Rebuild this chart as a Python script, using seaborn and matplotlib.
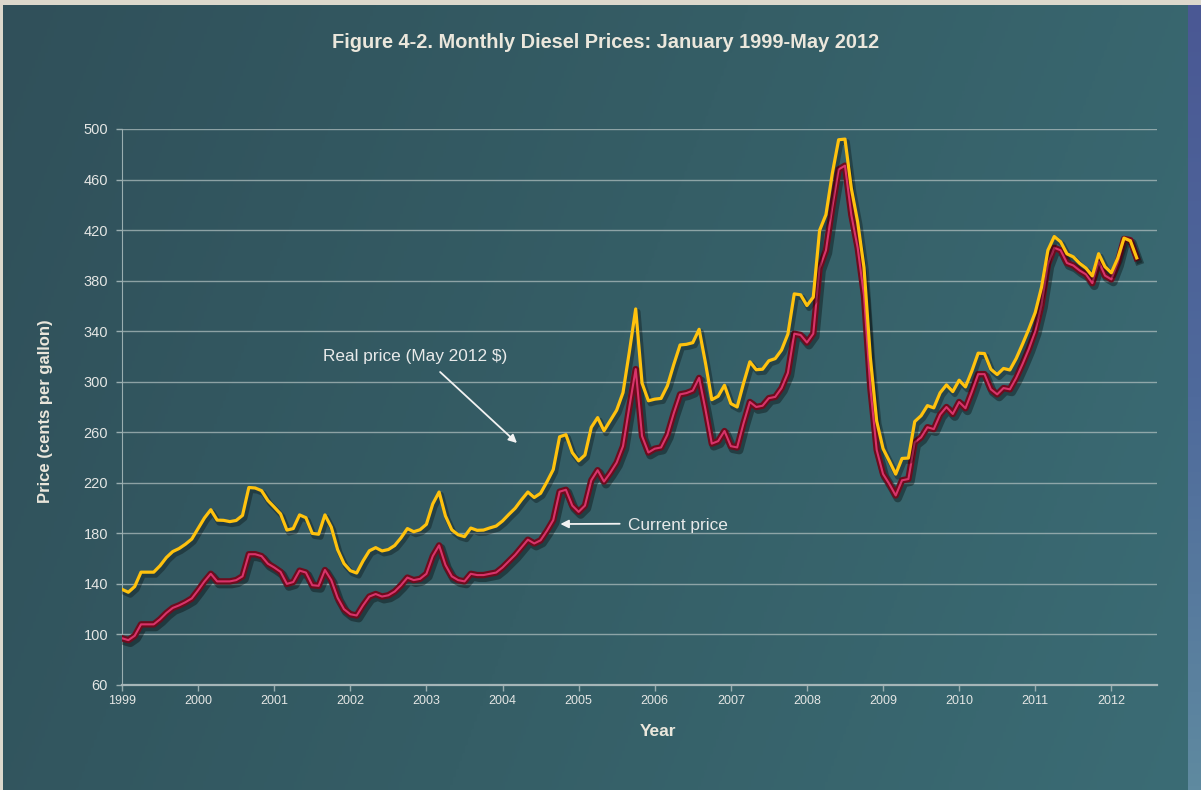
import numpy as np
import pandas as pd
import matplotlib
matplotlib.use("Agg")
import matplotlib.pyplot as plt
import matplotlib.patheffects as pe
from matplotlib import font_manager as fm
from matplotlib.colors import LinearSegmentedColormap
import seaborn as sns

# Monthly on-highway diesel prices, cents per gallon, Jan 1999 - May 2012
current_price = [
    97, 95.5, 99, 108, 108, 108, 112, 117, 121, 123, 125.5, 128.5,          # 1999
    135, 142, 148, 142, 142, 142, 143, 146, 163.5, 163.5, 162, 156,         # 2000
    153, 149.5, 140, 141.5, 150.5, 149, 139, 138.5, 151, 143, 129, 120,     # 2001
    116, 115, 123, 130, 132, 130, 131, 134, 139, 145, 143, 144,             # 2002
    148, 162, 170.5, 155, 146, 143, 142, 148, 147, 147, 148, 149,           # 2003
    153, 158, 163, 169, 175, 172, 174.5, 182, 190.5, 213, 214.5, 202,       # 2004
    197, 202, 222, 230, 221, 228, 236, 249, 280, 310, 257, 244,             # 2005
    247, 248, 258, 275, 290, 291, 293, 303, 278, 251, 253, 261,             # 2006
    249, 248, 267, 284, 280, 281, 287, 288, 295, 307, 338, 337,             # 2007
    331, 338, 390, 404, 438, 468, 471, 432, 406, 368, 295, 246,             # 2008
    227, 219, 210, 222, 223, 252, 256, 264, 262.5, 274, 280, 274.5,         # 2009
    284, 279, 292, 306, 306, 294, 290, 295, 294, 303, 314, 326,             # 2010
    340, 361, 393, 406, 404, 394, 392, 388, 385, 378, 395, 384,             # 2011
    381, 394, 413, 412, 398,                                                # 2012
]

# Same series expressed in May 2012 dollars
real_price = [
    135.7, 133.4, 137.9, 149.3, 149.3, 149.3, 154.4, 160.9, 165.6, 168.0, 171.4, 175.5,
    183.8, 192.2, 198.7, 190.5, 190.3, 189.3, 190.2, 194.2, 216.3, 215.9, 213.8, 206.0,
    200.8, 195.4, 182.6, 183.8, 194.6, 192.4, 180.0, 179.3, 194.6, 184.9, 167.1, 156.1,
    150.5, 148.6, 158.1, 166.2, 168.7, 166.1, 167.2, 170.4, 176.5, 183.8, 181.3, 182.9,
    187.2, 203.3, 212.7, 193.8, 182.8, 178.9, 177.4, 184.2, 182.4, 182.6, 184.3, 185.8,
    189.8, 195.0, 199.9, 206.6, 212.7, 208.4, 211.7, 220.7, 230.5, 256.4, 258.1, 243.9,
    237.4, 242.0, 263.9, 271.6, 261.2, 269.4, 277.5, 291.4, 323.7, 357.6, 298.9, 284.9,
    286.2, 286.8, 296.8, 313.6, 329.1, 329.6, 330.9, 341.5, 314.9, 285.8, 288.5, 297.2,
    282.7, 280.0, 298.7, 315.8, 309.5, 309.9, 316.6, 318.3, 325.1, 337.7, 369.5, 368.8,
    360.3, 366.9, 419.8, 432.2, 464.7, 491.5, 492.0, 453.1, 426.4, 390.4, 319.2, 268.9,
    247.1, 237.2, 226.9, 239.3, 239.6, 268.5, 273.1, 281.1, 279.3, 291.2, 297.5, 292.2,
    301.2, 295.9, 308.4, 322.6, 322.3, 309.9, 305.7, 310.5, 309.3, 318.4, 329.8, 341.8,
    354.8, 374.9, 404.1, 414.9, 410.8, 401.2, 398.8, 393.7, 389.9, 383.7, 401.3, 391.0,
    386.2, 397.6, 413.7, 411.5, 398.0,
]

year_ticks = list(range(1999, 2013))
price_ticks = list(range(60, 501, 40))

months = pd.date_range("1999-01-01", periods=len(current_price), freq="MS")
df = pd.DataFrame({
    "t": months.year + (months.month - 1) / 12.0,
    "current": current_price,
    "real": real_price,
})

# fonts
names = {f.name for f in fm.fontManager.ttflist}
if "Liberation Sans Narrow" in names:
    narrow = dict(family="Liberation Sans Narrow")
else:
    narrow = dict(family="Liberation Sans")
regular = dict(family="Liberation Sans")

W, H, DPI = 1201, 790, 100
fig = plt.figure(figsize=(W / DPI, H / DPI), dpi=DPI)

# gradient backdrop
bg = fig.add_axes([0, 0, 1, 1], zorder=-10)
bg.set_axis_off()
gx = np.linspace(0, 1, 400)[None, :]
gy = np.linspace(0, 1, 300)[:, None]
grad = np.clip(0.8 * gx + 0.2 * gy, 0, 1)
teal = LinearSegmentedColormap.from_list("teal", ["#30505a", "#355e66", "#3b6c75"])
bg.imshow(grad, cmap=teal, aspect="auto", extent=[0, 1, 0, 1], origin="upper")
bg.set_xlim(0, 1)
bg.set_ylim(0, 1)
# light frame edges and blue side strip
bg.add_patch(plt.Rectangle((0, 1 - 5 / H), 1, 5 / H, color="#dcd8cc", lw=0))
bg.add_patch(plt.Rectangle((0, 0), 2.5 / W, 1, color="#dcd8cc", lw=0))
strip = np.linspace(0, 1, 200)[:, None]
bluecm = LinearSegmentedColormap.from_list("blue", ["#4a5894", "#4f6a9c", "#5f8aa0"])
bg.imshow(strip, cmap=bluecm, aspect="auto",
          extent=[1 - 13 / W, 1, 0, 1 - 5 / H], origin="upper")

ax = fig.add_axes([122 / W, 1 - 685 / H, 1035 / W, 556 / H])
ax.set_facecolor("none")

sns.lineplot(data=df, x="t", y="current", ax=ax, color="#d8336a",
             linewidth=1.5, zorder=3)
red_line = ax.lines[-1]
red_line.set_path_effects([
    pe.SimpleLineShadow(offset=(1.5, -2), shadow_color="black", alpha=0.35, linewidth=6),
    pe.Stroke(linewidth=4.6, foreground="#6e0c1e"),
    pe.Normal(),
])

sns.lineplot(data=df, x="t", y="real", ax=ax, color="#ffc20e",
             linewidth=2.3, zorder=4)
yel_line = ax.lines[-1]
yel_line.set_path_effects([
    pe.SimpleLineShadow(offset=(1.5, -2), shadow_color="black", alpha=0.3, linewidth=4),
    pe.Normal(),
])

ax.set_xlim(1999, 2012.6)
ax.set_ylim(60, 500)
ax.set_xticks(year_ticks)
ax.set_xticklabels([str(y) for y in year_ticks], fontsize=9, color="#e4e6e4", **narrow)
ax.set_yticks(price_ticks)
ax.set_yticklabels([str(p) for p in price_ticks], fontsize=10.5, color="#e4e6e4", **regular)
ax.tick_params(axis="x", length=4, width=1, color="#9aaeb0", pad=3)
ax.tick_params(axis="y", length=4, width=1, color="#9aaeb0", pad=6)
ax.set_xlabel("")
ax.set_ylabel("")

ax.grid(axis="y", color="#b4c2c2", alpha=0.7, linewidth=1)
ax.grid(axis="x", visible=False)
ax.set_axisbelow(True)
for side in ("top", "right"):
    ax.spines[side].set_visible(False)
ax.spines["left"].set_color("#9aaeb0")
ax.spines["bottom"].set_color("#a6b6b8")
ax.spines["bottom"].set_linewidth(1.6)

fig.text(606 / W, 1 - 42 / H, "Figure 4-2. Monthly Diesel Prices: January 1999-May 2012",
         ha="center", va="center", fontsize=14.4, fontweight="bold", color="#ebe7dc", **narrow)
fig.text(46 / W, 1 - 411 / H, "Price (cents per gallon)", rotation=90,
         ha="center", va="center", fontsize=12, fontweight="bold", color="#ebe7dc", **regular)
fig.text(658 / W, 1 - 731 / H, "Year", ha="center", va="center",
         fontsize=12.5, fontweight="bold", color="#ebe7dc", **narrow)

arrow = dict(arrowstyle="-|>", color="#f2f2f2", lw=1.3, mutation_scale=12, shrinkA=0, shrinkB=0)
ax.text(2001.64, 319.6, "Real price (May 2012 $)", ha="left", va="center",
        fontsize=12.4, color="#e8eaea", **regular)
ax.annotate("", xy=(2004.19, 251.5), xytext=(2003.18, 307.7), arrowprops=arrow)
ax.text(2005.65, 186.6, "Current price", ha="left", va="center",
        fontsize=12.4, color="#e8eaea", **regular)
ax.annotate("", xy=(2004.76, 187.4), xytext=(2005.54, 187.6), arrowprops=arrow)

fig.savefig("out.png", dpi=DPI)
